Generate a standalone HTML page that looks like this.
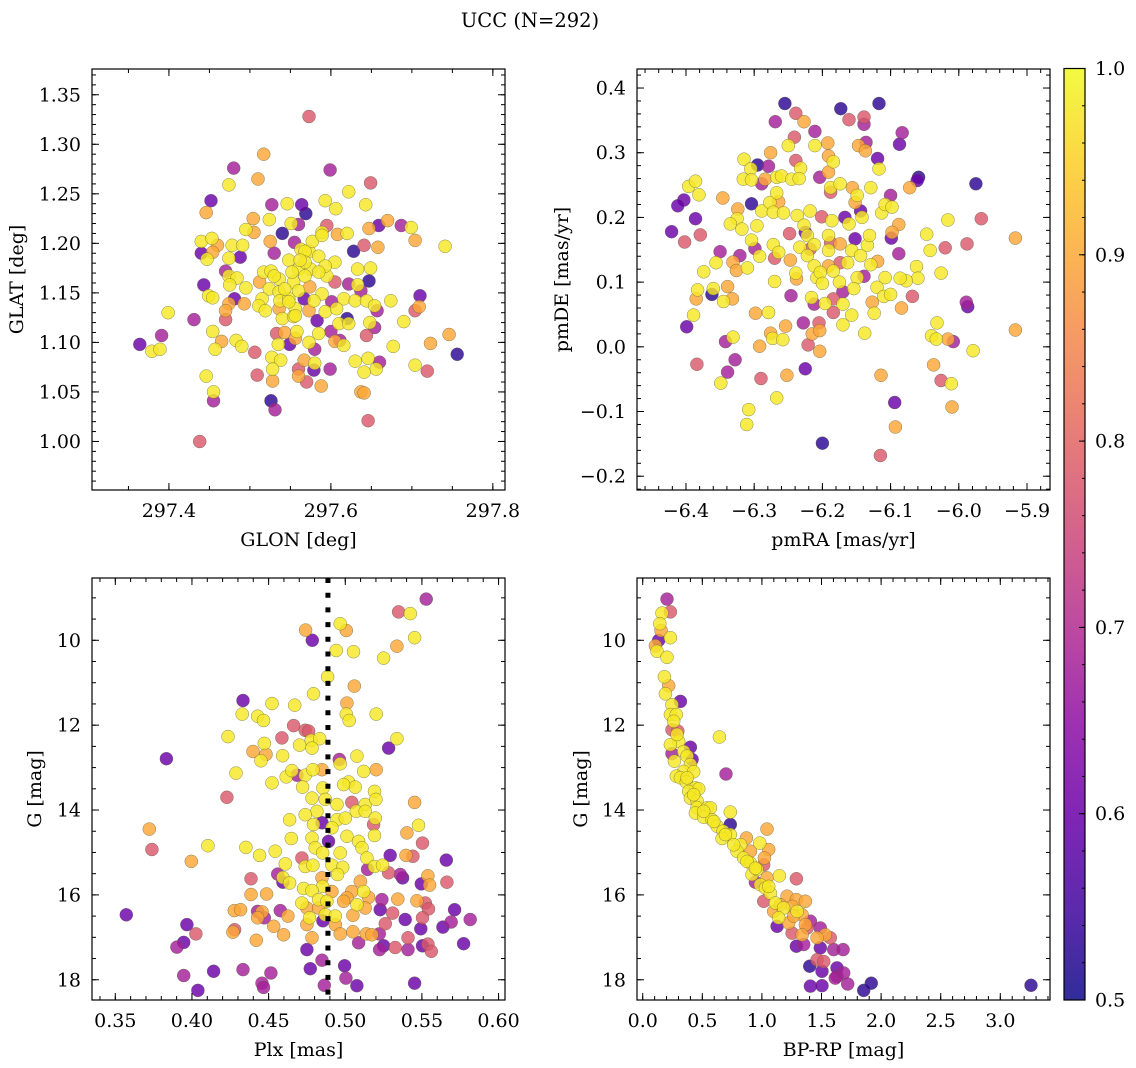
<!DOCTYPE html>
<html><head><meta charset="utf-8"><style>
html,body{margin:0;padding:0;background:#fff;}
svg{display:block;font-family:"DejaVu Serif","Liberation Serif",serif;}
</style></head><body>
<svg id="fig" width="1136" height="1068" viewBox="0 0 1136 1068" xmlns="http://www.w3.org/2000/svg">
<defs>
<linearGradient id="plasma" x1="0" y1="1" x2="0" y2="0">
<stop offset="0" stop-color="#0d0887"/><stop offset="0.1" stop-color="#41049d"/><stop offset="0.2" stop-color="#6a00a8"/><stop offset="0.3" stop-color="#8f0da4"/><stop offset="0.4" stop-color="#b12a90"/><stop offset="0.5" stop-color="#cc4778"/><stop offset="0.6" stop-color="#e16462"/><stop offset="0.7" stop-color="#f2844b"/><stop offset="0.8" stop-color="#fca636"/><stop offset="0.9" stop-color="#fcce25"/><stop offset="1" stop-color="#f0f921"/>
</linearGradient>
</defs>
<text x="530" y="27" text-anchor="middle" font-size="19.5">UCC (N=292)</text>
</svg>
<script>
// ---------- data ----------
const p1Glon=[297.573,297.517,297.480,297.599,297.510,297.649,297.474,297.452,297.446,297.622,
297.593,297.546,297.564,297.527,297.569,297.606,297.643,297.504,297.524,297.495,
297.505,297.540,297.551,297.560,297.595,297.659,297.670,297.687,297.699,297.647,
297.589,297.608,297.620,297.704,297.741,297.440,297.453,297.460,297.478,297.491,
297.525,297.555,297.563,297.573,297.641,297.658,297.628,297.530,297.440,297.447,
297.454,297.488,297.474,297.548,297.585,297.605,297.560,297.575,297.633,297.649,
297.470,297.474,297.484,297.517,297.526,297.536,297.512,297.568,297.595,297.605,
297.554,297.443,297.475,297.495,297.622,297.647,297.633,297.637,297.524,297.536,
297.560,297.574,297.589,297.710,297.449,297.454,297.481,297.493,297.474,297.515,
297.537,297.548,297.567,297.579,297.601,297.616,297.630,297.644,297.674,297.654,
297.657,297.704,297.709,297.511,297.519,297.536,297.556,297.573,297.593,297.607,
297.470,297.470,297.399,297.431,297.540,297.554,297.583,297.620,297.610,297.622,
297.648,297.654,297.690,297.391,297.364,297.379,297.389,297.454,297.465,297.457,
297.483,297.490,297.533,297.543,297.558,297.556,297.535,297.549,297.573,297.585,
297.580,297.600,297.605,297.611,297.616,297.644,297.677,297.723,297.746,297.756,
297.506,297.527,297.538,297.567,297.580,297.579,297.599,297.630,297.646,297.660,
297.656,297.641,297.704,297.719,297.528,297.560,297.446,297.509,297.528,297.560,
297.570,297.588,297.455,297.455,297.637,297.641,297.526,297.531,297.646,297.438,
297.568,297.593,297.585,297.552,297.568,297.530,297.543,297.548,297.556,297.577,
297.589,297.562];
const p1Glat=[1.328,1.290,1.276,1.274,1.265,1.261,1.259,1.243,1.231,1.252,
1.243,1.240,1.239,1.239,1.230,1.235,1.239,1.225,1.224,1.214,
1.211,1.210,1.220,1.219,1.218,1.218,1.223,1.218,1.216,1.215,
1.211,1.209,1.210,1.203,1.197,1.202,1.205,1.198,1.198,1.198,
1.202,1.201,1.194,1.192,1.198,1.196,1.192,1.190,1.190,1.184,
1.191,1.186,1.185,1.183,1.187,1.181,1.174,1.174,1.174,1.175,
1.172,1.167,1.165,1.171,1.172,1.164,1.161,1.167,1.167,1.161,
1.161,1.158,1.158,1.155,1.159,1.162,1.158,1.152,1.154,1.151,
1.152,1.156,1.149,1.147,1.147,1.145,1.144,1.139,1.139,1.144,
1.142,1.144,1.144,1.142,1.141,1.144,1.142,1.142,1.142,1.137,
1.132,1.132,1.136,1.137,1.132,1.134,1.134,1.132,1.131,1.134,
1.132,1.123,1.130,1.123,1.124,1.126,1.122,1.124,1.119,1.119,
1.120,1.115,1.121,1.107,1.098,1.091,1.093,1.111,1.101,1.093,
1.102,1.096,1.109,1.110,1.111,1.104,1.098,1.098,1.100,1.109,
1.093,1.111,1.101,1.102,1.097,1.107,1.096,1.099,1.108,1.088,
1.090,1.085,1.082,1.082,1.079,1.072,1.073,1.081,1.084,1.080,
1.073,1.070,1.077,1.071,1.073,1.073,1.066,1.067,1.061,1.066,
1.060,1.056,1.050,1.041,1.050,1.049,1.041,1.032,1.021,1.000,
1.192,1.177,1.171,1.171,1.181,1.167,1.154,1.141,1.127,1.202,
1.208,1.183];
const p1Prob=[.78,.9,.68,.68,.9,.78,.98,.6,.9,.98,
.98,.98,.6,.68,.53,.98,.98,.9,.98,.98,
.9,.53,.98,.68,.78,.6,.9,.68,.98,.9,
.98,.9,.98,.9,.98,.98,.98,.9,.98,.98,
.9,.68,.98,.98,.78,.9,.53,.68,.6,.98,
.9,.6,.98,.98,.98,.98,.98,.98,.98,.98,
.68,.98,.98,.98,.98,.98,.9,.98,.98,.78,
.98,.6,.98,.98,.68,.53,.98,.68,.98,.98,
.98,.9,.98,.6,.98,.98,.6,.9,.9,.98,
.98,.98,.6,.98,.68,.98,.98,.98,.98,.98,
.68,.78,.9,.98,.98,.9,.98,.9,.98,.98,
.9,.78,.98,.68,.98,.98,.6,.53,.98,.98,
.98,.68,.98,.68,.6,.98,.98,.98,.9,.98,
.98,.98,.78,.9,.98,.9,.98,.6,.98,.98,
.68,.68,.9,.68,.98,.78,.98,.9,.9,.53,
.78,.98,.98,.9,.98,.6,.68,.98,.98,.68,
.98,.98,.98,.78,.98,.78,.98,.78,.9,.9,
.78,.9,.98,.68,.9,.9,.53,.68,.78,.78,
.98,.98,.98,.98,.98,.98,.98,.98,.98,.98,
.98,.98];

const p2PmRA=[-6.255,-6.173,-6.117,-6.239,-6.269,-6.227,-6.161,-6.139,-6.139,-6.211,
-6.083,-6.087,-6.241,-6.250,-6.211,-6.192,-6.147,-6.136,-6.137,-6.119,
-6.117,-6.276,-6.315,-6.295,-6.279,-6.239,-6.232,-6.191,-6.184,-6.305,
-6.316,-6.304,-6.284,-6.289,-6.267,-6.260,-6.245,-6.234,-6.204,-6.191,
-6.188,-6.174,-6.188,-6.156,-6.129,-6.059,-6.061,-6.072,-5.975,-6.396,
-6.386,-6.381,-6.403,-6.412,-6.346,-6.386,-6.421,-6.379,-6.402,-6.304,
-6.324,-6.325,-6.335,-6.318,-6.296,-6.289,-6.277,-6.264,-6.267,-6.272,
-6.257,-6.237,-6.218,-6.201,-6.186,-6.167,-6.149,-6.152,-6.144,-6.142,
-6.161,-6.113,-6.108,-6.100,-6.098,-6.088,-6.098,-6.099,-6.016,-5.967,
-5.917,-6.047,-6.042,-6.020,-5.988,-6.088,-6.026,-6.062,-6.060,-6.077,
-6.086,-6.108,-6.068,-6.120,-6.110,-6.100,-6.127,-6.124,-6.084,-5.989,
-5.987,-5.917,-5.979,-6.008,-6.016,-6.032,-6.040,-6.033,-6.037,-6.026,
-6.011,-6.010,-6.114,-6.094,-6.093,-6.115,-6.200,-6.138,-6.170,-6.157,
-6.170,-6.184,-6.196,-6.184,-6.212,-6.228,-6.205,-6.215,-6.204,-6.221,
-6.204,-6.225,-6.216,-6.246,-6.270,-6.254,-6.276,-6.273,-6.258,-6.298,
-6.279,-6.292,-6.290,-6.252,-6.267,-6.308,-6.311,-6.328,-6.339,-6.349,
-6.342,-6.331,-6.384,-6.399,-6.389,-6.385,-6.383,-6.362,-6.360,-6.345,
-6.332,-6.339,-6.374,-6.356,-6.350,-6.331,-6.326,-6.321,-6.310,-6.304,
-6.299,-6.292,-6.270,-6.272,-6.264,-6.248,-6.247,-6.239,-6.238,-6.233,
-6.227,-6.222,-6.218,-6.222,-6.212,-6.208,-6.203,-6.191,-6.188,-6.191,
-6.191,-6.184,-6.174,-6.174,-6.163,-6.157,-6.144,-6.134,-6.131,-6.152,
-6.119,-6.129,-6.149,-6.139,-6.154,-6.170,-6.200,-6.175,-6.212,-6.225];
const p2PmDE=[0.376,0.368,0.376,0.361,0.348,0.348,0.351,0.355,0.344,0.333,
0.331,0.313,0.324,0.311,0.311,0.315,0.311,0.316,0.303,0.291,
0.275,0.300,0.290,0.281,0.279,0.288,0.276,0.295,0.286,0.275,
0.259,0.258,0.259,0.252,0.262,0.264,0.259,0.260,0.262,0.270,
0.246,0.252,0.239,0.246,0.246,0.262,0.257,0.246,0.252,0.248,
0.256,0.235,0.227,0.218,0.230,0.198,0.178,0.173,0.162,0.221,
0.213,0.198,0.190,0.182,0.187,0.210,0.223,0.224,0.238,0.208,
0.207,0.203,0.210,0.201,0.195,0.200,0.234,0.223,0.210,0.200,
0.190,0.207,0.220,0.234,0.216,0.189,0.177,0.168,0.196,0.198,
0.168,0.174,0.149,0.153,0.159,0.144,0.114,0.124,0.106,0.102,
0.106,0.107,0.078,0.092,0.078,0.081,0.069,0.052,0.060,0.069,
0.062,0.026,-0.006,0.008,0.012,0.037,0.017,0.012,-0.028,-0.052,
-0.057,-0.093,-0.044,-0.086,-0.124,-0.168,-0.149,0.021,0.034,0.049,
0.066,0.053,0.067,0.074,0.066,0.037,0.037,0.020,0.025,0.003,
-0.007,-0.034,0.076,0.079,0.101,0.032,0.021,0.013,0.011,0.052,
0.053,0.001,-0.049,-0.044,-0.079,-0.097,-0.120,-0.020,-0.039,-0.056,
0.008,0.015,-0.027,0.031,0.049,0.074,0.088,0.081,0.090,0.070,
0.074,0.093,0.116,0.130,0.147,0.131,0.118,0.141,0.122,0.165,
0.152,0.140,0.137,0.158,0.146,0.175,0.134,0.114,0.105,0.154,
0.188,0.172,0.151,0.141,0.125,0.107,0.115,0.149,0.161,0.172,
0.125,0.117,0.130,0.159,0.130,0.149,0.141,0.157,0.172,0.167,
0.132,0.127,0.107,0.109,0.090,0.085,0.098,0.100,0.158,0.177];
const p2Prob=[.53,.53,.53,.78,.68,.9,.78,.78,.68,.68,
.68,.6,.78,.98,.98,.9,.9,.68,.9,.6,
.98,.9,.98,.53,.68,.78,.98,.9,.98,.98,
.98,.98,.9,.68,.98,.98,.98,.98,.68,.9,
.98,.98,.78,.9,.98,.53,.6,.9,.53,.98,
.98,.98,.6,.6,.9,.6,.6,.78,.78,.53,
.9,.98,.98,.98,.98,.98,.98,.9,.98,.98,
.98,.98,.98,.78,.98,.6,.98,.9,.6,.98,
.98,.98,.98,.68,.98,.9,.9,.6,.98,.78,
.9,.98,.98,.78,.78,.68,.98,.98,.98,.98,
.98,.98,.78,.98,.98,.98,.9,.98,.9,.68,
.6,.9,.98,.68,.9,.98,.98,.98,.9,.78,
.98,.9,.9,.6,.9,.78,.53,.98,.98,.98,
.98,.78,.98,.78,.68,.68,.78,.9,.9,.78,
.9,.6,.98,.68,.98,.9,.9,.98,.98,.9,
.98,.9,.78,.9,.98,.98,.98,.68,.68,.98,
.68,.98,.78,.6,.98,.9,.98,.53,.98,.98,
.9,.9,.98,.98,.68,.9,.9,.68,.98,.98,
.68,.98,.78,.98,.98,.78,.9,.98,.9,.98,
.98,.98,.78,.98,.98,.98,.98,.98,.78,.98,
.9,.98,.78,.9,.98,.98,.98,.98,.98,.6,
.9,.98,.98,.68,.98,.68,.98,.98,.98,.6];

const p3Plx=[.5528,.5348,.5424,.4967,.5007,.4741,.4785,.4941,.5054,.5250,
.5337,.5452,.4885,.5059,.4793,.4333,.4522,.4670,.5011,.5007,
.5026,.5202,.4328,.4428,.4467,.4663,.4739,.4761,.4587,.4235,
.4778,.4833,.4702,.4783,.4472,.4398,.4483,.4450,.4591,.5283,
.5337,.5076,.4961,.4967,.3833,.4287,.4522,.4615,.4652,.4739,
.4789,.4848,.4685,.5202,.5120,.5022,.5065,.4989,.4722,.4854,
.5191,.4228,.4783,.4870,.4946,.5043,.5130,.5200,.5452,.4815,
.4739,.4946,.5000,.5072,.5130,.5196,.4637,.4793,.4848,.4913,
.5185,.5478,.3722,.5402,.5504,.3739,.4104,.4648,.4783,.4891,
.5011,.5087,.5109,.5191,.4804,.4852,.4967,.5141,.4352,.4441,
.4543,.3996,.5293,.5396,.5441,.5659,.4717,.4609,.4739,.4789,
.4913,.4983,.5191,.5243,.5146,.5283,.5359,.5374,.5539,.5550,
.5496,.5663,.4559,.4593,.4385,.4593,.4637,.4950,.4848,.5098,
.4852,.4728,.4783,.4913,.5043,.5120,.4385,.4487,.5011,.5152,
.5239,.5343,.5467,.5522,.4717,.4826,.4880,.4989,.5076,.4276,
.4317,.4428,.4457,.4428,.4472,.4576,.4626,.4750,.4826,.4767,
.4870,.4935,.5050,.5130,.5228,.5309,.5543,.5713,.3572,.3967,
.4026,.4278,.4267,.4533,.4598,.4750,.4854,.4935,.4967,.5050,
.5137,.5174,.5222,.5261,.5391,.5504,.5493,.5637,.5691,.5815,
.4783,.4420,.3946,.3902,.4750,.4848,.5087,.5250,.5224,.5326,
.5409,.5409,.5504,.5539,.5561,.5772,.4772,.4996,.5004,.5076,
.5452,.4863,.4141,.4333,.4515,.4457,.4467,.3946,.4039];
const p3G=[9.03,9.33,9.37,9.61,9.77,9.76,10.00,10.24,10.27,10.42,
10.14,9.94,10.86,11.08,11.26,11.42,11.49,11.53,11.48,11.74,
11.89,11.74,11.74,11.79,11.89,12.01,12.12,12.14,12.30,12.27,
12.36,12.32,12.47,12.54,12.43,12.62,12.69,12.84,12.72,12.54,
12.32,12.73,12.81,12.91,12.79,13.13,13.36,13.22,13.07,13.18,
13.05,13.05,13.18,13.05,13.09,13.34,13.46,13.40,13.46,13.48,
13.56,13.70,13.72,13.75,13.87,13.82,13.87,13.75,13.82,14.03,
14.11,14.23,14.19,14.03,14.03,14.19,14.23,14.34,14.30,14.42,
14.34,14.36,14.45,14.54,14.78,14.93,14.84,14.67,14.66,14.74,
14.62,14.74,14.89,14.60,14.89,15.01,15.01,15.13,14.88,15.07,
14.97,15.21,15.07,15.07,15.09,15.18,15.13,15.27,15.33,15.30,
15.30,15.35,15.33,15.30,15.40,15.48,15.52,15.60,15.55,15.77,
15.74,15.70,15.51,15.59,15.62,15.70,15.72,15.52,15.60,15.68,
15.80,15.85,15.90,15.92,15.92,15.92,15.99,15.98,16.07,16.06,
16.11,16.10,16.14,16.19,16.19,16.11,16.15,16.15,16.23,16.37,
16.35,16.39,16.40,16.54,16.54,16.37,16.50,16.31,16.31,16.54,
16.47,16.50,16.48,16.31,16.35,16.43,16.33,16.35,16.47,16.70,
16.92,16.82,16.88,16.74,16.94,16.70,16.61,16.70,16.92,16.87,
16.92,16.94,16.92,16.68,16.58,16.54,16.80,16.76,16.64,16.58,
17.01,17.07,17.12,17.23,17.29,17.54,17.13,17.20,17.29,17.24,
17.01,17.29,17.20,17.16,17.33,17.15,17.74,17.67,17.96,18.14,
18.08,18.13,17.80,17.76,17.84,18.08,18.18,17.90,18.25];
const p3Prob=[.68,.78,.98,.98,.9,.9,.6,.98,.98,.98,
.9,.98,.98,.9,.98,.6,.98,.98,.9,.98,
.98,.98,.98,.98,.98,.78,.78,.78,.78,.98,
.98,.98,.98,.98,.98,.9,.9,.98,.98,.6,
.98,.98,.68,.98,.6,.98,.98,.98,.98,.98,
.98,.9,.68,.9,.98,.98,.98,.98,.98,.98,
.98,.78,.98,.98,.98,.78,.98,.98,.9,.98,
.98,.98,.98,.98,.98,.98,.98,.98,.6,.98,
.78,.98,.9,.9,.78,.78,.98,.98,.98,.6,
.98,.98,.98,.98,.98,.98,.98,.98,.98,.98,
.98,.9,.6,.9,.78,.6,.78,.98,.98,.98,
.98,.98,.98,.98,.68,.78,.68,.6,.9,.9,
.6,.78,.68,.98,.78,.6,.98,.98,.9,.9,
.98,.98,.98,.9,.9,.98,.9,.9,.9,.9,
.68,.9,.9,.78,.98,.98,.98,.9,.98,.9,
.9,.68,.9,.9,.68,.68,.9,.9,.9,.98,
.98,.98,.9,.9,.6,.78,.78,.6,.6,.6,
.78,.78,.9,.9,.9,.9,.6,.9,.9,.9,
.9,.9,.68,.78,.6,.78,.6,.6,.68,.68,
.9,.9,.6,.68,.6,.68,.68,.6,.68,.78,
.78,.68,.6,.78,.78,.6,.6,.6,.68,.6,
.6,.68,.6,.68,.68,.68,.68,.68,.6];
const p3PlxMarker=[0.4887];

const p4BpRp=[0.204,0.232,0.162,0.143,0.154,0.134,0.232,0.106,0.120,0.204,
0.182,0.218,0.190,0.316,0.246,0.232,0.282,0.260,0.246,0.294,
0.643,0.302,0.232,0.400,0.344,0.246,0.372,0.414,0.266,0.400,
0.344,0.428,0.699,0.282,0.316,0.366,0.442,0.470,0.386,0.400,
0.456,0.456,0.540,0.568,0.735,0.442,0.512,0.582,0.735,0.624,
1.043,0.674,0.735,0.666,0.870,0.982,1.057,0.822,0.791,0.903,
0.847,1.021,0.903,1.015,0.917,0.959,0.945,0.987,1.029,1.043,
1.147,1.289,1.071,1.015,1.113,1.211,1.289,1.365,1.253,1.182,
1.295,1.337,1.099,1.141,1.127,1.225,1.407,1.365,1.253,1.337,
1.490,1.532,1.463,1.574,1.289,1.351,1.490,1.602,1.681,1.463,
1.518,1.401,1.504,1.630,1.630,1.616,1.686,1.720,1.407,1.504,
1.854,1.918,3.258,0.512,0.596,0.694,0.763,0.875,0.945,1.057,
1.155,1.267,1.379,0.372,0.428,0.288];
const p4G=[9.03,9.33,9.36,9.61,9.77,10.00,9.94,10.13,10.26,10.40,
10.86,11.07,11.26,11.44,11.52,11.75,11.75,11.91,12.11,12.14,
12.28,12.38,12.46,12.52,12.62,12.67,12.73,12.81,12.85,12.93,
13.09,13.10,13.15,13.20,13.24,13.34,13.48,13.50,13.56,13.72,
13.79,13.94,13.95,13.95,14.05,14.07,14.17,14.23,14.34,14.38,
14.45,14.50,14.58,14.67,14.66,14.78,14.93,14.82,14.97,14.97,
15.13,15.13,15.25,15.29,15.52,15.40,15.70,15.76,15.84,15.60,
15.55,15.62,15.96,16.15,16.19,16.03,16.11,16.15,16.27,16.31,
16.39,16.47,16.39,16.54,16.74,16.66,16.62,16.70,16.90,16.94,
16.78,16.94,17.01,17.01,17.21,17.17,17.25,17.29,17.29,17.53,
17.57,17.68,17.80,17.72,17.92,17.96,17.84,18.10,18.15,18.14,
18.25,18.08,18.13,14.03,14.27,14.58,14.82,15.21,15.37,15.80,
16.23,16.50,16.78,13.24,13.64,12.22];
const p4Prob=[.68,.78,.98,.98,.9,.6,.98,.9,.98,.98,
.98,.9,.98,.6,.98,.98,.98,.98,.78,.78,
.98,.98,.98,.6,.98,.68,.98,.6,.98,.98,
.98,.98,.68,.98,.98,.98,.98,.98,.98,.98,
.98,.98,.98,.98,.98,.98,.98,.98,.53,.98,
.9,.98,.98,.98,.9,.98,.9,.98,.98,.9,
.98,.9,.98,.78,.98,.98,.68,.98,.98,.9,
.98,.78,.98,.78,.98,.9,.9,.9,.9,.98,
.98,.9,.9,.98,.6,.9,.68,.9,.78,.9,
.68,.9,.9,.78,.6,.68,.6,.68,.68,.78,
.78,.53,.6,.6,.68,.68,.68,.68,.6,.6,
.53,.53,.53,.98,.98,.98,.98,.98,.98,.98,
.9,.9,.78,.98,.98,.98];

const cbTicks=[0.5,0.6,0.7,0.8,0.9,1.0];

// ---------- helpers ----------
const NS="http://www.w3.org/2000/svg";
const svg=document.getElementById('fig');
const FS=19;
function el(tag,attrs,parent){const e=document.createElementNS(NS,tag);for(const k in attrs)e.setAttribute(k,attrs[k]);(parent||svg).appendChild(e);return e;}
const stops=[[0,[13,8,135]],[.1,[65,4,157]],[.2,[106,0,168]],[.3,[143,13,164]],[.4,[177,42,144]],[.5,[204,71,120]],[.6,[225,100,98]],[.7,[242,132,75]],[.8,[252,166,54]],[.9,[252,206,37]],[1,[240,249,33]]];
function plasma(v){let t=Math.max(0,Math.min(1,(v-0.5)/0.5));for(let i=1;i<stops.length;i++){if(t<=stops[i][0]){const a=stops[i-1],b=stops[i];const f=(t-a[0])/(b[0]-a[0]);const c=a[1].map((x,j)=>Math.round(x+(b[1][j]-x)*f));return `rgb(${c[0]},${c[1]},${c[2]})`;}}return 'rgb(240,249,33)';}
function fmt(v,d){const s=Math.abs(v).toFixed(d);return (v<-1e-9?'\u2212':'')+s;}

function panel(c){
  const g=el('g',{});
  
  
  const sx=v=>c.x0+(v-c.xd[0])/(c.xd[1]-c.xd[0])*(c.x1-c.x0);
  const sy=v=>c.y1-(v-c.yd[0])/(c.yd[1]-c.yd[0])*(c.y1-c.y0);
  const xs=c.xs, ys=c.ys, cs=c.cs;
  const idx=xs.map((_,i)=>i).sort((a,b)=>cs[a]-cs[b]);
  const pts=el('g',{},g);
  
  
  idx.forEach(i=>{
    const p=el('circle',{cx:sx(xs[i]).toFixed(1),cy:sy(ys[i]).toFixed(1),r:6.5,fill:plasma(cs[i]),'fill-opacity':0.82,stroke:'#5a5a3a','stroke-width':0.5,'stroke-opacity':0.7},pts);
    
    
  });
  if(c.vline!==undefined){
    const l=el('line',{x1:sx(c.vline),x2:sx(c.vline),y1:c.y0,y2:c.y1,stroke:'#000','stroke-width':5,'stroke-dasharray':'5 9.7'},g);
    
    
  }
  const fr=el('rect',{x:c.x0,y:c.y0,width:c.x1-c.x0,height:c.y1-c.y0,fill:'none',stroke:'#000','stroke-width':1.2},g);
  
  
  const tg=el('g',{stroke:'#000','stroke-width':1},g);
  const lo=Math.min(...c.xd),hi=Math.max(...c.xd);
  for(let k=Math.ceil(lo/c.xmin-1e-6);k*c.xmin<=hi+1e-9;k++){const v=k*c.xmin,x=sx(v);
    el('line',{x1:x,x2:x,y1:c.y1,y2:c.y1-4},tg);el('line',{x1:x,x2:x,y1:c.y0,y2:c.y0+4},tg);}
  const ylo=Math.min(...c.yd),yhi=Math.max(...c.yd);
  for(let k=Math.ceil(ylo/c.ymin-1e-6);k*c.ymin<=yhi+1e-9;k++){const v=k*c.ymin,y=sy(v);
    el('line',{x1:c.x0,x2:c.x0+4,y1:y,y2:y},tg);el('line',{x1:c.x1,x2:c.x1-4,y1:y,y2:y},tg);}
  c.xmaj.forEach(v=>{const x=sx(v);
    el('line',{x1:x,x2:x,y1:c.y1,y2:c.y1-7},tg);el('line',{x1:x,x2:x,y1:c.y0,y2:c.y0+7},tg);
    const t=el('text',{x:x,y:c.y1+27,'text-anchor':'middle','font-size':FS},g);t.textContent=fmt(v,c.xdec);
    
    });
  c.ymaj.forEach(v=>{const y=sy(v);
    el('line',{x1:c.x0,x2:c.x0+7,y1:y,y2:y},tg);el('line',{x1:c.x1,x2:c.x1-7,y1:y,y2:y},tg);
    const t=el('text',{x:c.x0-11,y:y+6.5,'text-anchor':'end','font-size':FS},g);t.textContent=fmt(v,c.ydec);
    
    });
  const xl=el('text',{x:(c.x0+c.x1)/2,y:c.y1+56,'text-anchor':'middle','font-size':FS},g);xl.textContent=c.xlabel;
  
  
  const cy=(c.y0+c.y1)/2;
  const yl=el('text',{x:c.ylx,y:cy,'text-anchor':'middle','font-size':FS,transform:`rotate(-90 ${c.ylx} ${cy})`},g);yl.textContent=c.ylabel;
  
  
}

panel({name:'glon-glat-panel',x0:92,x1:505,y0:69,y1:490,xd:[297.305,297.815],yd:[0.951,1.376],
  xs:p1Glon,ys:p1Glat,cs:p1Prob,xmaj:[297.4,297.6,297.8],xmin:0.05,ymaj:[1.00,1.05,1.10,1.15,1.20,1.25,1.30,1.35],ymin:0.01,
  xdec:1,ydec:2,xlabel:'GLON [deg]',ylabel:'GLAT [deg]',ylx:23});
panel({name:'proper-motion-panel',x0:637,x1:1050,y0:69,y1:490,xd:[-6.4718,-5.8663],yd:[-0.2213,0.4294],
  xs:p2PmRA,ys:p2PmDE,cs:p2Prob,xmaj:[-6.4,-6.3,-6.2,-6.1,-6.0,-5.9],xmin:0.02,ymaj:[-0.2,-0.1,0,0.1,0.2,0.3,0.4],ymin:0.02,
  xdec:1,ydec:1,xlabel:'pmRA [mas/yr]',ylabel:'pmDE [mas/yr]',ylx:568});
panel({name:'parallax-magnitude-panel',x0:92,x1:505,y0:578,y1:1000,xd:[0.3348,0.6042],yd:[18.477,8.532],
  xs:p3Plx,ys:p3G,cs:p3Prob,xmaj:[0.35,0.40,0.45,0.50,0.55,0.60],xmin:0.01,ymaj:[10,12,14,16,18],ymin:0.5,
  xdec:2,ydec:0,xlabel:'Plx [mas]',ylabel:'G [mag]',ylx:41,vline:p3PlxMarker[0]});
panel({name:'color-magnitude-panel',x0:637,x1:1050,y0:578,y1:1000,xd:[-0.048,3.417],yd:[18.477,8.532],
  xs:p4BpRp,ys:p4G,cs:p4Prob,xmaj:[0,0.5,1,1.5,2,2.5,3],xmin:0.1,ymaj:[10,12,14,16,18],ymin:0.5,
  xdec:1,ydec:0,xlabel:'BP-RP [mag]',ylabel:'G [mag]',ylx:587});

// colorbar
(function(){
  const x0=1064,x1=1085,y0=68.5,y1=1000;
  const cb=el('g',{});
  
  
  el('rect',{x:x0,y:y0,width:x1-x0,height:y1-y0,fill:'url(#plasma)','fill-opacity':0.85},cb);
  el('rect',{x:x0,y:y0,width:x1-x0,height:y1-y0,fill:'none',stroke:'#000','stroke-width':1.2},cb);
  const s=v=>y1-(v-0.5)/0.5*(y1-y0);
  for(let k=25;k<=50;k++){const y=s(k*0.02);el('line',{x1:x1,x2:x1-3,y1:y,y2:y,stroke:'#000','stroke-width':1},cb);}
  cbTicks.forEach(v=>{const y=s(v);el('line',{x1:x1,x2:x1-6,y1:y,y2:y,stroke:'#000','stroke-width':1},cb);
    const t=el('text',{x:x1+10,y:y+6.5,'font-size':FS},cb);t.textContent=v.toFixed(1);
    
    });
})();
</script>
</body></html>
